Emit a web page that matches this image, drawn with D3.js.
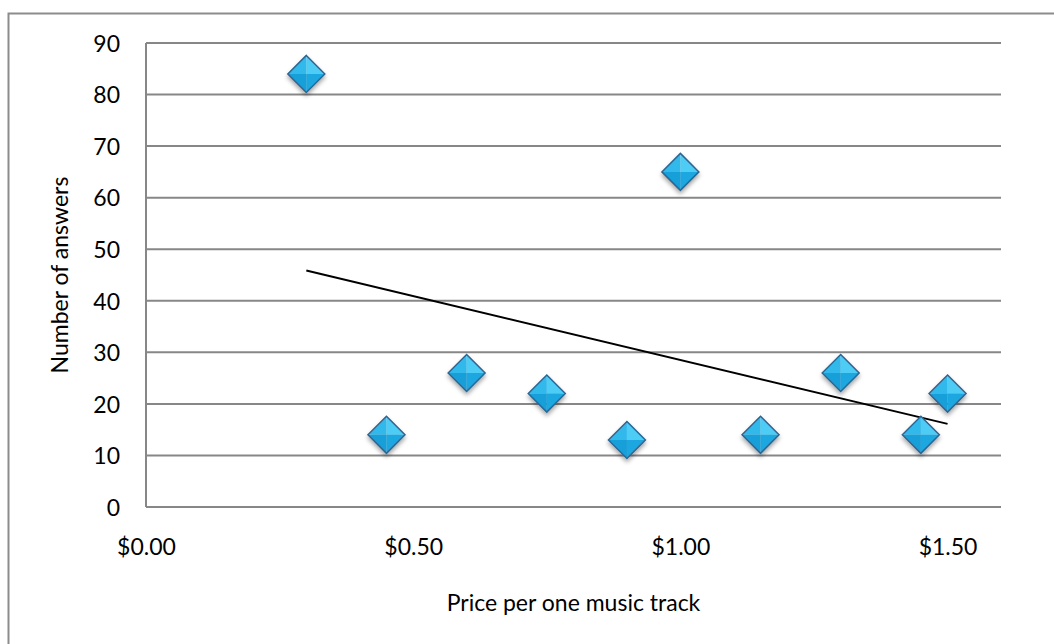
<!DOCTYPE html>
<html>
<head>
<meta charset="utf-8">
<script src="https://cdn.jsdelivr.net/npm/d3@7"></script>
<style>
  html, body { margin: 0; padding: 0; background: #fff; }
  svg { display: block; }
  text { font-family: Lato, "Open Sans", sans-serif; fill: #000; }
</style>
</head>
<body>
<svg id="chart" width="1054" height="644"></svg>
<script>
// Survey answers: price per one music track vs. number of answers
const prices  = [0.30, 0.45, 0.60, 0.75, 0.90, 1.00, 1.15, 1.30, 1.45, 1.50];
const answers = [84, 14, 26, 22, 13, 65, 14, 26, 14, 22];

const xTicks = [0, 0.5, 1.0, 1.5];
const yTicks = [0, 10, 20, 30, 40, 50, 60, 70, 80, 90];
const xDomain = [0, 1.6];
const yDomain = [0, 90];

const xTitle = "Price per one music track";
const yTitle = "Number of answers";

const plot = { left: 146, right: 1001, top: 43, bottom: 507 };

const svg = d3.select("#chart");

const x = d3.scaleLinear().domain(xDomain).range([plot.left, plot.right]);
const y = d3.scaleLinear().domain(yDomain).range([plot.bottom, plot.top]);

// Drop shadow used by the markers
const defs = svg.append("defs");
const f = defs.append("filter").attr("id", "mshadow")
  .attr("x", "-50%").attr("y", "-50%").attr("width", "200%").attr("height", "200%");
f.append("feDropShadow").attr("dx", 0).attr("dy", 3).attr("stdDeviation", 2.2)
  .attr("flood-color", "#000").attr("flood-opacity", 0.35);

// Chart frame (its right and bottom edges run past the visible area)
svg.append("rect")
  .attr("x", 8.5).attr("y", 13.5)
  .attr("width", 1060).attr("height", 650)
  .attr("fill", "#fff").attr("stroke", "#8c8c8c").attr("stroke-width", 2);

// Horizontal gridlines
svg.append("g").selectAll("line")
  .data(yTicks.filter(d => d > 0))
  .join("line")
  .attr("x1", plot.left).attr("x2", plot.right)
  .attr("y1", d => y(d)).attr("y2", d => y(d))
  .attr("stroke", "#878787").attr("stroke-width", 2);

// Axis lines (left and bottom)
svg.append("line")
  .attr("x1", plot.left).attr("x2", plot.left)
  .attr("y1", plot.top).attr("y2", plot.bottom)
  .attr("stroke", "#878787").attr("stroke-width", 2);
svg.append("line")
  .attr("x1", plot.left).attr("x2", plot.right)
  .attr("y1", plot.bottom).attr("y2", plot.bottom)
  .attr("stroke", "#878787").attr("stroke-width", 2);

// Y axis tick labels
const yAxis = d3.axisLeft(y).tickValues(yTicks).tickSize(0).tickPadding(26);
const gy = svg.append("g").attr("transform", `translate(${plot.left},0)`).call(yAxis);
gy.select(".domain").remove();
gy.selectAll("text").style("font-size", "23px").attr("font-family", "Lato, sans-serif")
  .attr("dy", "0.36em");

// X axis tick labels
const fmt = d3.format("$.2f");
const xAxis = d3.axisBottom(x).tickValues(xTicks).tickFormat(fmt).tickSize(0).tickPadding(32);
const gx = svg.append("g").attr("transform", `translate(0,${plot.bottom})`).call(xAxis);
gx.select(".domain").remove();
gx.selectAll("text").style("font-size", "23px").attr("font-family", "Lato, sans-serif");

// Axis titles
svg.append("text")
  .attr("x", (plot.left + plot.right) / 2).attr("y", 611)
  .attr("text-anchor", "middle").style("font-size", "23px")
  .text(xTitle);
svg.append("text")
  .attr("transform", `translate(68,${(plot.top + plot.bottom) / 2}) rotate(-90)`)
  .attr("text-anchor", "middle").style("font-size", "23px")
  .text(yTitle);

// Linear trendline (least squares over the data)
const n = prices.length;
const mx = d3.mean(prices), my = d3.mean(answers);
let sxy = 0, sxx = 0;
for (let i = 0; i < n; i++) {
  sxy += (prices[i] - mx) * (answers[i] - my);
  sxx += (prices[i] - mx) ** 2;
}
const slope = sxy / sxx, icpt = my - slope * mx;
const [x0, x1] = d3.extent(prices);
svg.append("line")
  .attr("x1", x(x0)).attr("y1", y(icpt + slope * x0))
  .attr("x2", x(x1)).attr("y2", y(icpt + slope * x1))
  .attr("stroke", "#000").attr("stroke-width", 2);

// Bevelled diamond markers
const r = 18.5;
const pts = prices.map((p, i) => ({ px: x(p), py: y(answers[i]) }));
const mk = svg.append("g").selectAll("g").data(pts).join("g")
  .attr("transform", d => `translate(${d.px},${d.py})`)
  .attr("filter", "url(#mshadow)");
const facets = [
  { d: `M0,0 L${-r},0 L0,${-r} Z`, c: "#33b9ec" },
  { d: `M0,0 L0,${-r} L${r},0 Z`, c: "#4dcdf6" },
  { d: `M0,0 L${r},0 L0,${r} Z`, c: "#1ba7e0" },
  { d: `M0,0 L0,${r} L${-r},0 Z`, c: "#189fd9" }
];
facets.forEach(fc => mk.append("path").attr("d", fc.d).attr("fill", fc.c));
mk.append("path")
  .attr("d", `M0,${-r} L${r},0 L0,${r} L${-r},0 Z`)
  .attr("fill", "none").attr("stroke", "#2f6590").attr("stroke-width", 1.5)
  .attr("stroke-linejoin", "miter");
</script>
</body>
</html>
